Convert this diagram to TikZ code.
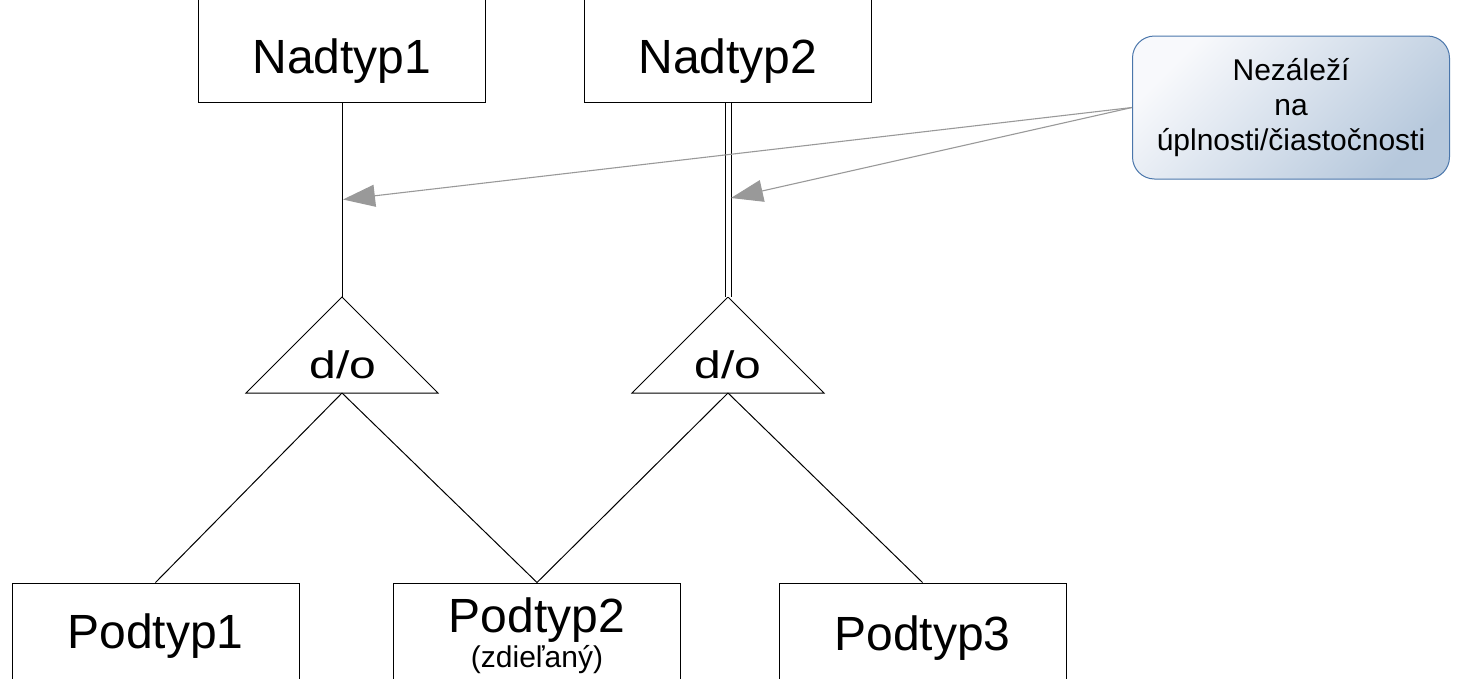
\documentclass[tikz,border=0pt]{standalone}
\usepackage{fontspec}
\usepackage{graphicx}
\setmainfont{Liberation Sans}
\usetikzlibrary{arrows.meta}

\definecolor{notebd}{HTML}{4A76AB}
\definecolor{notelo}{HTML}{B6C8DC}
\definecolor{notehi}{HTML}{F8F9FC}
\definecolor{hintgray}{HTML}{999999}

\tikzset{
  entity/.style={draw=black, line width=1pt, rectangle, inner sep=0pt,
    minimum width=287pt, font=\fontsize{48}{56}\selectfont},
  gen/.style={draw=black, line width=1pt, line join=miter},
  link/.style={draw=black, line width=1pt},
  biglabel/.style={inner sep=0pt, anchor=base, font=\fontsize{48}{56}\selectfont},
  smalllabel/.style={inner sep=0pt, anchor=base, font=\fontsize{30}{35}\selectfont},
  note/.style={draw=notebd, line width=1pt, rounded corners=22pt,
    shading=axis, top color=notehi, bottom color=notelo, shading angle=45,
    minimum width=317pt, minimum height=143pt, inner sep=0pt,
    align=center, font=\fontsize{30}{35}\selectfont},
  hint/.style={draw=hintgray, line width=1.1pt,
    -{Triangle[length=32pt, width=22pt, fill=hintgray]}},
}

\begin{document}
\begin{tikzpicture}[x=1pt, y=-1pt]
  \clip (0,0) rectangle (1459,678);

  % supertypes
  \node[entity, minimum height=107pt, text height=50pt, text depth=0pt]
    (sup1) at (342,48.5) {Nadtyp1};
  \node[entity, minimum height=107pt, text height=50pt, text depth=0pt]
    (sup2) at (728,48.5) {Nadtyp2};

  % subtypes
  \node[entity, minimum height=117pt, text height=35pt, text depth=22pt]
    (sub1) at (155.5,641.5) {Podtyp1};
  \node[entity, minimum height=117pt, text height=20pt, text depth=39pt]
    (sub2) at (537,641.5) {Podtyp2};
  \node[smalllabel] (sub2note) at (537,667) {(zdieľaný)};
  \node[entity, minimum height=117pt, text height=37pt, text depth=20pt]
    (sub3) at (922.5,641.5) {Podtyp3};

  % generalisation triangles
  \coordinate (g1top) at (342,297);
  \coordinate (g1bot) at (342,393);
  \coordinate (g2top) at (728,297);
  \coordinate (g2bot) at (728,393);
  \draw[gen] (g1top) -- (246,393) -- (438,393) -- cycle;
  \draw[gen] (g2top) -- (632,393) -- (824,393) -- cycle;
  \node[biglabel] (g1lab) at (343,378) {\scalebox{1}[0.8]{d/o}};
  \node[biglabel] (g2lab) at (728,378) {\scalebox{1}[0.8]{d/o}};

  % supertype links: partial (single) and total (double)
  \draw[link] (sup1.south) -- (g1top);
  \draw[link, double, double distance=5pt] (sup2.south -| g2top) -- (g2top);

  % subtype links
  \draw[link] (g1bot) -- (sub1.north);
  \draw[link] (g1bot) -- (sub2.north);
  \draw[link] (g2bot) -- (sub2.north);
  \draw[link] (g2bot) -- (sub3.north);

  % remark
  \node[note] (remark) at (1291,107.5) {Nezáleží\\na\\úplnosti/čiastočnosti};
  \coordinate (hit1) at (343,199.5);
  \coordinate (hit2) at (731,198);
  \draw[hint] (remark.west) -- (hit1);
  \draw[hint] (remark.west) -- (hit2);
\end{tikzpicture}
\end{document}
